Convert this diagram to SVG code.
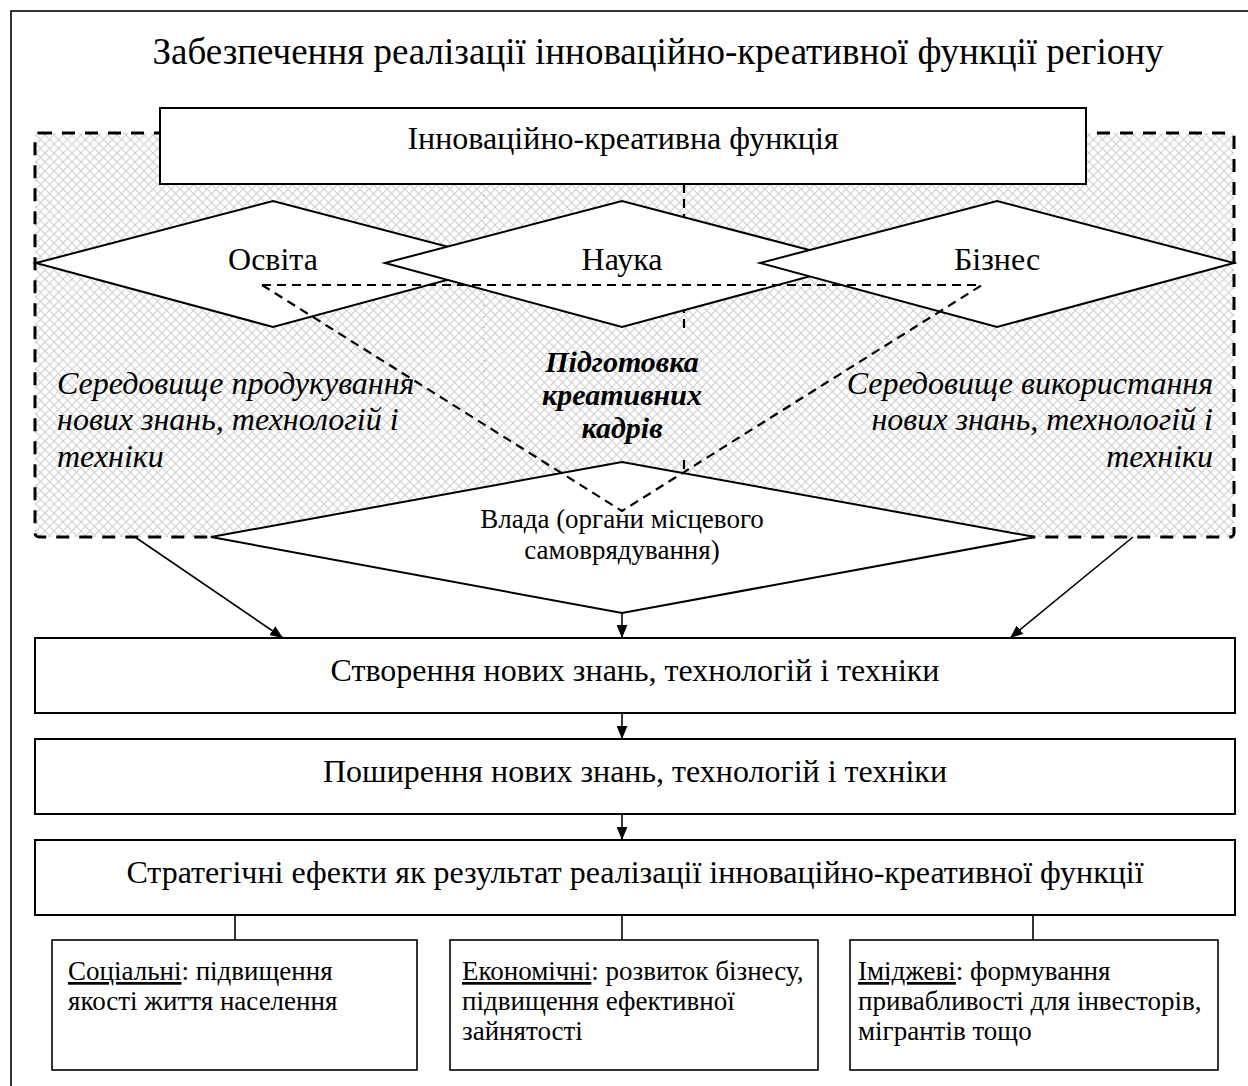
<svg xmlns="http://www.w3.org/2000/svg" width="1248" height="1086" viewBox="0 0 1248 1086">
<defs>
<pattern id="hatch" width="9" height="9" patternUnits="userSpaceOnUse">
<path d="M0,0 L9,9 M9,0 L0,9" stroke="#d0d0d0" stroke-width="1.1" fill="none"/>
</pattern>
<marker id="arr" viewBox="0 0 12 10" refX="12" refY="5" markerWidth="13" markerHeight="11" markerUnits="userSpaceOnUse" orient="auto">
<path d="M0,0 L12,5 L0,10 Z" fill="#000"/>
</marker>
<style>
.t{font-family:"Liberation Serif","Times New Roman",serif;fill:#000}
.box{fill:#fff;stroke:#000;stroke-width:2}
.sbox{fill:#fff;stroke:#000;stroke-width:1.6}
.dia{fill:#fff;stroke:#000;stroke-width:2;stroke-linejoin:miter}
.dash{fill:none;stroke:#000;stroke-width:2.2;stroke-dasharray:9 6}
.conn{fill:none;stroke:#000;stroke-width:1.6}
</style>
</defs>
<rect width="1248" height="1086" fill="#fff"/>
<rect id="frame" x="11" y="11" width="1260" height="1100" fill="none" stroke="#000" stroke-width="1.6"/>
<text class="t" x="658" y="64" font-size="37" text-anchor="middle">Забезпечення реалізації інноваційно-креативної функції регіону</text>

<g id="environment">
<rect x="35" y="133" width="1199" height="404" rx="4" fill="url(#hatch)" stroke="#000" stroke-width="3" stroke-dasharray="13 10"/>
<line x1="484" y1="184" x2="484" y2="490" stroke="#888" stroke-width="1" stroke-dasharray="1 10"/>
<path class="dash" d="M684,184 V332 M684,460 V473"/>
</g>

<g id="node-function">
<rect class="box" x="160" y="108" width="926" height="76"/>
<text class="t" x="623" y="149" font-size="32" text-anchor="middle">Інноваційно-креативна функція</text>
</g>
<g id="node-osvita">
<polygon class="dia" points="36,263 273,201 510,263 273,327"/>
</g>
<g id="node-nauka">
<polygon class="dia" points="385,263 622,201 859,263 622,327"/>
</g>
<g id="node-biznes">
<polygon class="dia" points="760,263 997,201 1234,263 997,327"/>
</g>
<g id="node-vlada">
<polygon class="dia" points="211,537 622,462 1035,537 622,613"/>
</g>
<g id="triangle">
<path class="dash" d="M262,285 H982 M262,285 L622,511 L982,285"/>
</g>
<text class="t" x="273" y="270" font-size="32" text-anchor="middle">Освіта</text>
<text class="t" x="622" y="270" font-size="32" text-anchor="middle">Наука</text>
<text class="t" x="997" y="270" font-size="32" text-anchor="middle">Бізнес</text>
<g id="node-vlada-text">
<text class="t" x="622" y="528" font-size="27" text-anchor="middle">Влада (органи місцевого</text>
<text class="t" x="622" y="559" font-size="27" text-anchor="middle">самоврядування)</text>
</g>
<g id="label-kadry" font-size="30" font-weight="bold" font-style="italic" text-anchor="middle">
<text class="t" x="622" y="372">Підготовка</text>
<text class="t" x="622" y="405">креативних</text>
<text class="t" x="622" y="438">кадрів</text>
</g>
<g id="label-left" font-size="32" font-style="italic">
<text class="t" x="57" y="394">Середовище продукування</text>
<text class="t" x="57" y="430">нових знань, технологій і</text>
<text class="t" x="57" y="467">техніки</text>
</g>
<g id="label-right" font-size="32" font-style="italic" text-anchor="end">
<text class="t" x="1213" y="394">Середовище використання</text>
<text class="t" x="1213" y="430">нових знань, технологій і</text>
<text class="t" x="1213" y="467">техніки</text>
</g>

<g id="node-create">
<rect class="box" x="35" y="638" width="1200" height="75"/>
<text class="t" x="635" y="681" font-size="32" text-anchor="middle">Створення нових знань, технологій і техніки</text>
</g>
<g id="node-spread">
<rect class="box" x="35" y="739" width="1200" height="75"/>
<text class="t" x="635" y="782" font-size="32" text-anchor="middle">Поширення нових знань, технологій і техніки</text>
</g>
<g id="node-effects">
<rect class="box" x="35" y="840" width="1200" height="75"/>
<text class="t" x="635" y="883" font-size="32" text-anchor="middle">Стратегічні ефекти як результат реалізації інноваційно-креативної функції</text>
</g>

<g id="node-social">
<rect class="sbox" x="52" y="940" width="365" height="130"/>
<text class="t" x="68" y="980" font-size="27"><tspan text-decoration="underline">Соціальні</tspan>: підвищення</text>
<text class="t" x="68" y="1010" font-size="27">якості життя населення</text>
</g>
<g id="node-economic">
<rect class="sbox" x="450" y="940" width="368" height="130"/>
<text class="t" x="462" y="980" font-size="27"><tspan text-decoration="underline">Економічні</tspan>: розвиток бізнесу,</text>
<text class="t" x="462" y="1010" font-size="27">підвищення ефективної</text>
<text class="t" x="462" y="1040" font-size="27">зайнятості</text>
</g>
<g id="node-image">
<rect class="sbox" x="850" y="940" width="368" height="130"/>
<text class="t" x="858" y="980" font-size="27"><tspan text-decoration="underline">Іміджеві</tspan>: формування</text>
<text class="t" x="858" y="1010" font-size="27">привабливості для інвесторів,</text>
<text class="t" x="858" y="1040" font-size="27">мігрантів тощо</text>
</g>

<g id="connectors">
<line class="conn" x1="135" y1="537" x2="283" y2="638" marker-end="url(#arr)"/>
<line class="conn" x1="622" y1="613" x2="622" y2="638" marker-end="url(#arr)"/>
<line class="conn" x1="1133" y1="537" x2="1010" y2="638" marker-end="url(#arr)"/>
<line class="conn" x1="622" y1="713" x2="622" y2="739" marker-end="url(#arr)"/>
<line class="conn" x1="622" y1="814" x2="622" y2="840" marker-end="url(#arr)"/>
<line class="conn" x1="235" y1="915" x2="235" y2="940"/>
<line class="conn" x1="622" y1="915" x2="622" y2="940"/>
<line class="conn" x1="1033" y1="915" x2="1033" y2="940"/>
</g>
</svg>
